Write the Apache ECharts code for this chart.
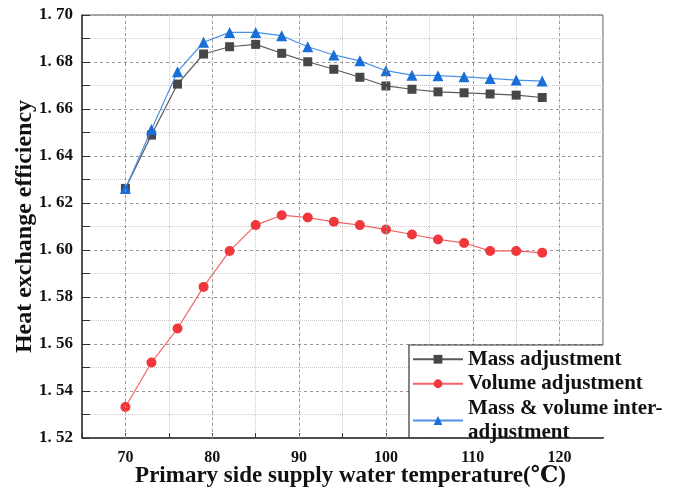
<!DOCTYPE html>
<html>
<head>
<meta charset="utf-8">
<script src="https://cdn.jsdelivr.net/npm/echarts@6/dist/echarts.min.js"></script>
<style>html,body{margin:0;padding:0;background:#fff}#c{width:684px;height:489px}</style>
</head>
<body>
<div id="c"></div>
<script>
const temps = [70,73,76,79,82,85,88,91,94,97,100,103,106,109,112,115,118];
const massAdj = [1.6262,1.6489,1.6706,1.6834,1.6865,1.6875,1.6837,1.6801,1.6769,1.6735,1.6698,1.6684,1.6673,1.6669,1.6664,1.6659,1.6649];
const volumeAdj = [1.5332,1.5521,1.5666,1.5843,1.5996,1.6106,1.6148,1.6138,1.6120,1.6106,1.6087,1.6066,1.6045,1.6030,1.5996,1.5996,1.5988];
const interAdj = [1.6262,1.6513,1.6759,1.6884,1.6926,1.6926,1.6912,1.6865,1.6830,1.6805,1.6763,1.6744,1.6742,1.6737,1.6730,1.6723,1.6719];
const xMajorTicks = [70,80,90,100,110,120];
const seriesNames = ['Mass adjustment','Volume adjustment','Mass & volume inter-\nadjustment'];

const FONT = '"Liberation Serif", "DejaVu Serif", serif';
const pair = arr => temps.map((t,i)=>[t,arr[i]]);

const chart = echarts.init(document.getElementById('c'), null, {renderer:'canvas'});
chart.setOption({
  animation:false,
  backgroundColor:'#fff',
  grid:{left:82,top:15,right:81,bottom:51,containLabel:false,outerBoundsMode:'none',
    show:true,borderColor:'#555',borderWidth:1,backgroundColor:'transparent'},
  xAxis:{
    type:'value',min:65,max:125,interval:5,
    name:'Primary side supply water temperature(℃)',nameLocation:'middle',nameGap:27,nameMoveOverlap:false,
    nameTextStyle:{fontFamily:FONT,fontWeight:'bold',fontSize:23,color:'#111',padding:[0,0,0,16]},
    axisLine:{show:true,onZero:false,lineStyle:{color:'#333',width:1.5}},
    axisTick:{show:true,inside:true,length:5,lineStyle:{color:'#333'}},
    axisLabel:{margin:12,fontFamily:FONT,fontWeight:'bold',fontSize:16,color:'#111',
      formatter:v=> xMajorTicks.indexOf(v)>=0 ? String(v) : ''},
    splitLine:{show:true,lineStyle:{type:'dotted',color:'#c8c8c8',width:1}}
  },
  yAxis:{
    type:'value',min:1.52,max:1.70,interval:0.02,
    name:'Heat exchange efficiency',nameLocation:'middle',nameGap:45,nameMoveOverlap:false,
    nameTextStyle:{fontFamily:FONT,fontWeight:'bold',fontSize:24,color:'#111'},
    axisLine:{show:true,lineStyle:{color:'#333',width:1.5}},
    axisTick:{show:true,inside:true,length:8,lineStyle:{color:'#333'}},
    minorTick:{show:true,splitNumber:2,length:8,lineStyle:{color:'#333'}},
    axisLabel:{margin:9,fontFamily:FONT,fontWeight:'bold',fontSize:17,color:'#111',
      formatter:v=>v.toFixed(2).replace('.', '. ')},
    splitLine:{show:true,lineStyle:{type:[3,3],color:'#999',width:1}},
    minorSplitLine:{show:true,lineStyle:{type:'dotted',color:'#c8c8c8',width:1}}
  },
  legend:{
    orient:'vertical',left:412,top:347,padding:0,itemWidth:50,itemHeight:11,itemGap:0,z:20,
    data:seriesNames,
    textStyle:{fontFamily:FONT,fontWeight:'bold',fontSize:21,color:'#111',lineHeight:24.5}
  },
  graphic:[
    {type:'rect',z:10,shape:{x:409,y:345,width:196,height:92},style:{fill:'#fff'}},
    {type:'polyline',z:11,shape:{points:[[409,438],[409,345],[603,345]]},style:{stroke:'#333',lineWidth:1.2,fill:null}}
  ],
  series:[
    {type:'line',name:'_grid',data:[],z:1,silent:true,
      markLine:{silent:true,symbol:'none',label:{show:false},
        lineStyle:{type:[3,3],color:'#999',width:1},
        data:xMajorTicks.map(v=>({xAxis:v}))}},
    {type:'line',name:seriesNames[0],data:pair(massAdj),z:3,symbol:'rect',symbolSize:9,
      itemStyle:{color:'#474747'},lineStyle:{color:'#5a5a5a',width:1.2}},
    {type:'line',name:seriesNames[1],data:pair(volumeAdj),z:3,symbol:'circle',symbolSize:10,
      itemStyle:{color:'#f0383c'},lineStyle:{color:'#f26466',width:1.2}},
    {type:'line',name:seriesNames[2],data:pair(interAdj),z:4,symbol:'triangle',symbolSize:11,
      itemStyle:{color:'#1a6ed8'},lineStyle:{color:'#4a90e6',width:1.2}}
  ]
});
</script>
</body>
</html>
